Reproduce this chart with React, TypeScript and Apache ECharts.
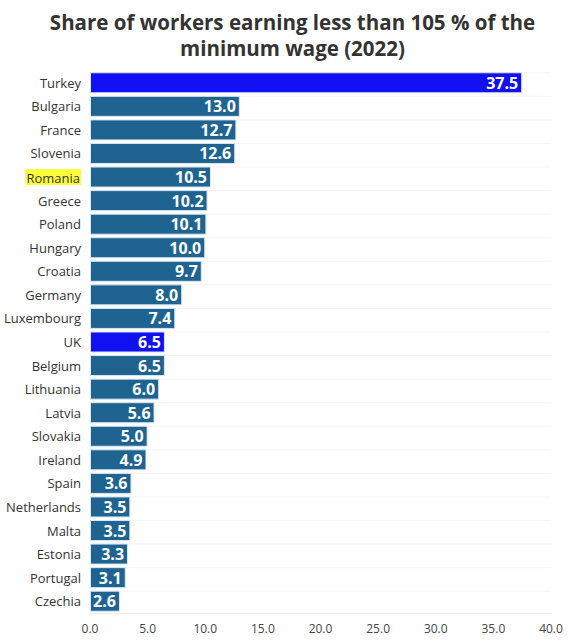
import { useRef, useEffect } from 'react';
import * as echarts from 'echarts';

const countries = [
  'Turkey', 'Bulgaria', 'France', 'Slovenia', 'Romania', 'Greece', 'Poland', 'Hungary',
  'Croatia', 'Germany', 'Luxembourg', 'UK', 'Belgium', 'Lithuania', 'Latvia', 'Slovakia',
  'Ireland', 'Spain', 'Netherlands', 'Malta', 'Estonia', 'Portugal', 'Czechia',
];
const shares = [
  37.5, 13.0, 12.7, 12.6, 10.5, 10.2, 10.1, 10.0,
  9.7, 8.0, 7.4, 6.5, 6.5, 6.0, 5.6, 5.0,
  4.9, 3.6, 3.5, 3.5, 3.3, 3.1, 2.6,
];
const highlightBars = ['Turkey', 'UK'];
const highlightLabel = 'Romania';
const axisMax = 40;

const FONT = '"Open Sans", "Noto Sans", sans-serif';

export default function App() {
  const ref = useRef<HTMLDivElement>(null);

  useEffect(() => {
    if (!ref.current) return;
    const chart = echarts.init(ref.current, undefined, { renderer: 'svg' });
    chart.setOption({
      animation: false,
      textStyle: { fontFamily: FONT },
      title: {
        text: 'Share of workers earning less than 105 % of the\nminimum wage (2022)',
        left: 'center',
        top: 4,
        textStyle: { fontFamily: FONT, fontSize: 20.5, fontWeight: 'bold', color: '#333', lineHeight: 26 },
      },
      grid: { left: 90, right: 34, top: 71, bottom: 30 },
      xAxis: {
        type: 'value',
        min: 0,
        max: axisMax,
        interval: 5,
        axisLabel: { color: '#444', fontSize: 12, margin: 9, formatter: (v: number) => v.toFixed(1) },
        axisLine: { show: true, lineStyle: { color: '#eeeeee' } },
        axisTick: { show: false },
        splitLine: { show: false },
      },
      yAxis: {
        type: 'category',
        data: countries,
        inverse: true,
        axisLine: { show: false },
        axisTick: { show: false },
        axisLabel: {
          color: '#333',
          fontSize: 13,
          margin: 9,
          formatter: (v: string) => (v === highlightLabel ? `{hl|${v}}` : v),
          rich: { hl: { backgroundColor: '#ffff3c', color: '#333', fontSize: 13, padding: [2, 1, 1, 1] } },
        },
      },
      series: [
        {
          type: 'bar',
          data: countries.map(() => axisMax),
          barWidth: 1,
          barGap: '-100%',
          silent: true,
          z: 1,
          itemStyle: { color: '#f4f4f4' },
        },
        {
          type: 'bar',
          z: 2,
          data: countries.map((c, i) => ({
            value: shares[i],
            itemStyle: { color: highlightBars.includes(c) ? '#1010f0' : '#1f6491' },
          })),
          barWidth: 21,
          itemStyle: { borderColor: '#d8e6f0', borderWidth: 1 },
          label: {
            show: true,
            position: 'insideRight',
            offset: [1, 0],
            color: '#fff',
            fontSize: 16,
            fontWeight: 'bold',
            fontFamily: FONT,
            formatter: (p: any) => Number(p.value).toFixed(1),
          },
        },
      ],
    });
    return () => chart.dispose();
  }, []);

  return <div ref={ref} style={{ position: 'absolute', left: 0, top: 0, width: 585, height: 643, background: '#fff' }} />;
}
